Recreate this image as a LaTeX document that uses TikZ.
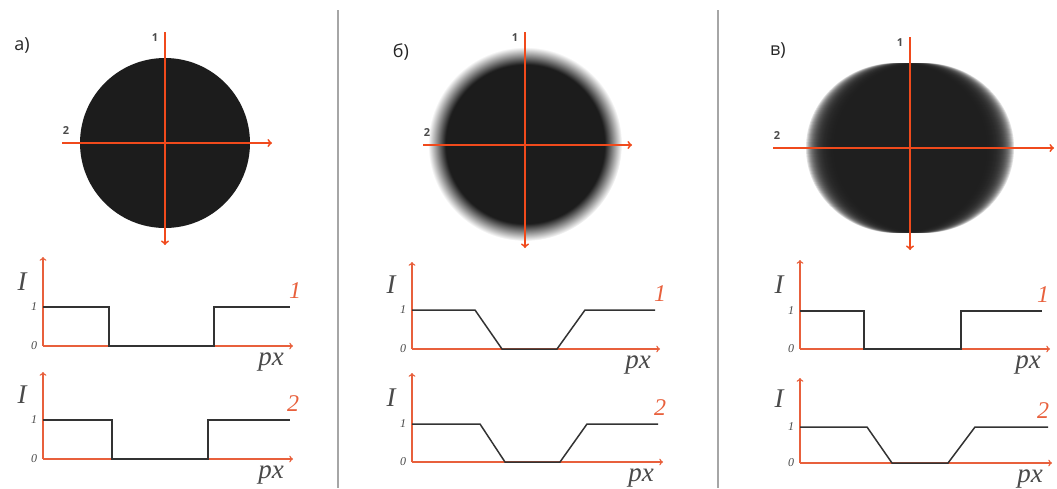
\documentclass[tikz,border=0pt]{standalone}
\usepackage{fontspec}
\newfontfamily\labfont{Open Sans}
\newfontfamily\plotfont{Liberation Serif}
\usetikzlibrary{positioning}

\definecolor{axisred}{HTML}{E8603C}
\definecolor{crossred}{HTML}{F04A1C}
\definecolor{blob}{HTML}{1C1C1C}
\definecolor{curvegray}{HTML}{333333}
\definecolor{textgray}{HTML}{4A4A4A}

% soft edged disc for panel b
\pgfdeclareradialshading{blurdisc}{\pgfpoint{0bp}{0bp}}{%
  color(0bp)=(blob); color(20.5bp)=(blob); color(25bp)=(white); color(50bp)=(white)}

\tikzset{
  crossline/.style={crossred,line width=1.8,->},
  plotaxis/.style={axisred,line width=1.4,->},
  profile/.style={curvegray,line width=1.5},
  divider/.style={gray!70,line width=1.8},
  panellabel/.style={font=\labfont\fontsize{18}{18}\selectfont,text=black!85},
  linelabel/.style={font=\labfont\bfseries\fontsize{11}{11}\selectfont,text=textgray},
  axlabel/.style={font=\plotfont\itshape\fontsize{27}{27}\selectfont,text=textgray},
  ticklabel/.style={font=\plotfont\itshape\fontsize{12}{12}\selectfont,text=textgray},
  curvelabel/.style={font=\plotfont\itshape\fontsize{24}{24}\selectfont,text=axisred}
}

\begin{document}
\begin{tikzpicture}[x=1pt,y=-1pt]
  \useasboundingbox (0,0) rectangle (1057,488);

  % Dividers
  \draw[divider] (338,10) -- (338,488);
  \draw[divider] (718,10) -- (718,488);

  % Discs
  \coordinate (cA) at (165,143);
  \coordinate (cB) at (525,144);
  \coordinate (cC) at (910,148);
  \fill[blob] (cA) circle (85);
  \shade[shading=blurdisc] (cB) circle (97);
  \foreach \d in {-14,-13,...,14}
    \fill[blob,opacity=0.14] ([xshift=\d pt]cC) ellipse (90 and 85);

  % Panel labels
  \node[panellabel] (la) at (22,45) {а)};
  \node[panellabel] (lb) at (401,52) {б)};
  \node[panellabel] (lc) at (778,50) {в)};

  % Section lines
  \foreach \p/\vx/\vt/\vb/\hy/\hl/\hr in {a/165/32/245/143/62/272,
      b/525/32/248/145/423/632, c/910/37/250/148/773/1054}{
    \coordinate (\p-vt) at (\vx,\vt);
    \coordinate (\p-vb) at (\vx,\vb);
    \coordinate (\p-hl) at (\hl,\hy);
    \coordinate (\p-hr) at (\hr,\hy);
    \draw[crossline] (\p-vt) -- (\p-vb);
    \draw[crossline] (\p-hl) -- (\p-hr);
    \node[linelabel] (\p-one) at (\vx-10,\vt+6) {1};
    \node[linelabel] (\p-two) at (\hl+4,\hy-12) {2};
  }

  % Axes of the profiles
  \foreach \n/\ox/\oy/\top/\xe/\lv/\kx/\k in {a1/43/346/257/293/307/295/1,
      a2/43/459/372/293/420/293/2, b1/412/349/262/660/310/660/1,
      b2/412/462/373/663/424/660/2, c1/800/349/260/1050/311/1043/1,
      c2/800/463/378/1052/427/1043/2}{
    \coordinate (\n-o) at (\ox,\oy);
    \coordinate (\n-t) at (\ox,\top);
    \coordinate (\n-e) at (\xe,\oy);
    \draw[plotaxis] (\n-o) -- (\n-t);
    \draw[plotaxis] (\n-o) -- (\n-e);
    \node[axlabel] (\n-I) at (\ox-21,\oy-64) {I};
    \node[ticklabel] (\n-1) at (\ox-9,\lv) {1};
    \node[ticklabel] (\n-0) at (\ox-9,\oy) {0};
    \node[axlabel] (\n-px) at (\xe-22,\oy+16) {px};
    \node[curvelabel] (\n-k) at (\kx,\lv-16) {\k};
  }

  % Profiles
  \draw[profile] (43,307) -- (109,307) -- (109,346) -- (214,346) -- (214,307) -- (290,307);
  \draw[profile] (43,420) -- (112,420) -- (112,459) -- (208,459) -- (208,420) -- (290,420);
  \draw[profile] (412,310) -- (475,310) -- (502,349) -- (557,349) -- (585,310) -- (655,310);
  \draw[profile] (412,424) -- (480,424) -- (505,462) -- (560,462) -- (587,424) -- (658,424);
  \draw[profile] (800,311) -- (864,311) -- (864,349) -- (961,349) -- (961,311) -- (1042,311);
  \draw[profile] (800,427) -- (867,427) -- (892,463) -- (948,463) -- (975,427) -- (1048,427);

\end{tikzpicture}
\end{document}
